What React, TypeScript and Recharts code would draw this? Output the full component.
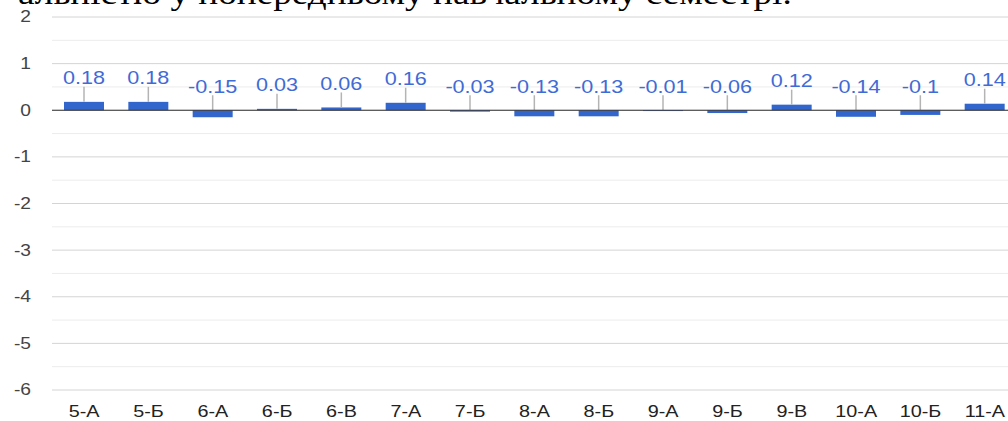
import { BarChart, Bar, XAxis, YAxis, CartesianGrid, ReferenceLine } from "recharts";

const classes = ["5-А", "5-Б", "6-А", "6-Б", "6-В", "7-А", "7-Б", "8-А", "8-Б", "9-А", "9-Б", "9-В", "10-А", "10-Б", "11-А"];
const values = [0.18, 0.18, -0.15, 0.03, 0.06, 0.16, -0.03, -0.13, -0.13, -0.01, -0.06, 0.12, -0.14, -0.1, 0.14];
const yTicks = [-6, -5, -4, -3, -2, -1, 0, 1, 2];
const minorTicks = [-5.5, -4.5, -3.5, -2.5, -1.5, -0.5, 0.5, 1.5];
const title = "альністю у попередньому навчальному семестрі.";

const data = classes.map((name, i) => ({ name, value: values[i] }));

const SANS = "'Liberation Sans', Arial, sans-serif";

const YTick = (props: any) => {
  const { y, payload } = props;
  return (
    <text
      transform={`translate(31,${y}) scale(1.2,1)`}
      textAnchor="end"
      dominantBaseline="central"
      fontSize={16}
      fill="#444"
      fontFamily={SANS}
    >
      {payload.value}
    </text>
  );
};

const XTick = (props: any) => {
  const { x, payload } = props;
  return (
    <text
      transform={`translate(${x},412) scale(1.2,1)`}
      textAnchor="middle"
      dominantBaseline="central"
      fontSize={16.5}
      fill="#222"
      fontFamily={SANS}
    >
      {payload.value}
    </text>
  );
};

// bar + leader line + value label, like the annotations in the original
const BarWithLabel = (props: any) => {
  const { x, y, width, height, payload, fill } = props;
  const top = Math.min(y, y + height);
  const h = Math.max(Math.abs(height), 0.8);
  const cx = x + width / 2;
  return (
    <g>
      <rect x={x} y={top} width={width} height={h} fill={fill} />
      <line x1={cx} x2={cx} y1={top - 15} y2={top} stroke="#b4b4b4" strokeWidth={1.5} />
      <text
        transform={`translate(${cx},${top - 24}) scale(1.2,1)`}
        textAnchor="middle"
        dominantBaseline="central"
        fontSize={18}
        fill="#3f6bd6"
        fontFamily={SANS}
      >
        {String(payload.value)}
      </text>
    </g>
  );
};

export default function App() {
  return (
    <div style={{ position: "absolute", left: 0, top: 0, width: 1008, height: 421, overflow: "hidden", background: "#fff" }}>
      <svg width={1008} height={30} style={{ position: "absolute", left: 0, top: 0 }}>
        <text
          transform="translate(18,3.5) scale(1.2,1)"
          fontSize={31}
          fontFamily="'Liberation Serif', 'Times New Roman', serif"
          fill="#000"
        >
          {title}
        </text>
      </svg>
      <BarChart
        width={1017}
        height={421}
        data={data}
        margin={{ top: 17, right: 0, bottom: 0, left: 0 }}
        style={{ position: "absolute", left: 0, top: 0 }}
      >
        <CartesianGrid vertical={false} horizontalValues={minorTicks} stroke="#ececec" />
        <CartesianGrid vertical={false} stroke="#d4d4d4" />
        <XAxis dataKey="name" axisLine={false} tickLine={false} interval={0} height={31} tick={<XTick />} />
        <YAxis
          domain={[-6, 2]}
          ticks={yTicks}
          width={52}
          axisLine={false}
          tickLine={false}
          tick={<YTick />}
        />
        <ReferenceLine y={0} stroke="#333" strokeWidth={1} />
        <Bar dataKey="value" fill="#3366cc" barSize={40} isAnimationActive={false} shape={<BarWithLabel />} />
      </BarChart>
    </div>
  );
}
